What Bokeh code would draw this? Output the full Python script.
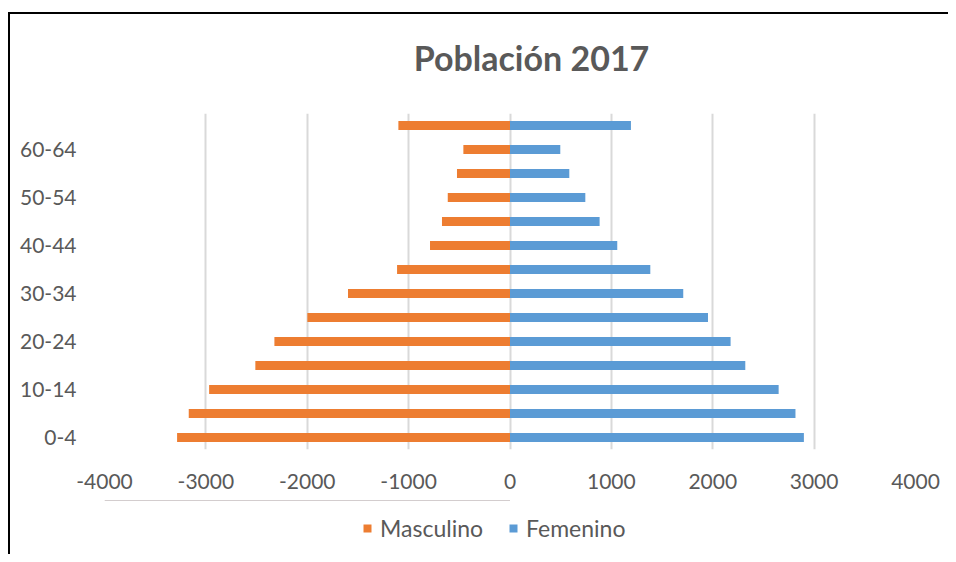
from bokeh.plotting import figure
from bokeh.layouts import column
from bokeh.models import ColumnDataSource, Legend, LegendItem, FixedTicker, Range1d, Label
from bokeh.embed import file_html
from bokeh.resources import INLINE

# Data (bottom to top)
age_groups = ["0-4", "5-9", "10-14", "15-19", "20-24", "25-29", "30-34",
              "35-39", "40-44", "45-49", "50-54", "55-59", "60-64", "65+"]
masculino = [3284, 3169, 2968, 2512, 2324, 1999, 1598, 1114, 789, 671, 614, 523, 460, 1101]
femenino = [2899, 2816, 2650, 2321, 2176, 1953, 1709, 1384, 1058, 884, 743, 585, 496, 1193]
x_ticks = [-4000, -3000, -2000, -1000, 0, 1000, 2000, 3000, 4000]
title_text = "Población 2017"
series_names = ["Masculino", "Femenino"]

ORANGE = "#ED7D31"
BLUE = "#5B9BD5"
TEXT = "#595959"
FONT = "Lato"


def strip(h):
    f = figure(width=938, height=h, x_range=(0, 1), y_range=(0, 1),
               output_backend="svg", toolbar_location=None,
               x_axis_location=None, y_axis_location=None,
               min_border=0, min_border_left=0, min_border_right=0,
               min_border_top=0, min_border_bottom=0)
    f.grid.visible = False
    f.outline_line_color = None
    return f


# Title strip
pt = strip(99)
pt.add_layout(Label(x=427, y=56, x_units="screen", y_units="screen",
                    text=title_text, text_font=FONT, text_font_size="34px",
                    text_font_style="bold", text_color=TEXT,
                    text_align="center", text_baseline="middle"))

# Main chart
idx = list(range(len(age_groups)))
src = ColumnDataSource(dict(
    pos=idx,
    age=age_groups,
    masc=[-v for v in masculino],
    fem=femenino,
))

p = figure(
    width=938, height=387,
    y_range=Range1d(-0.5, len(age_groups) - 0.5),
    x_range=(-4000, 4000),
    output_backend="svg", toolbar_location=None,
    min_border_left=94, min_border_right=33,
    min_border_top=0, min_border_bottom=51,
)

p.hbar(y="pos", left=0, right="masc", height=0.38, source=src,
       fill_color=ORANGE, line_color=None)
p.hbar(y="pos", left=0, right="fem", height=0.38, source=src,
       fill_color=BLUE, line_color=None)

p.outline_line_color = None
p.ygrid.grid_line_color = None
p.xgrid.grid_line_color = "#D9D9D9"
p.xgrid.grid_line_width = 2
p.xaxis.ticker = FixedTicker(ticks=x_ticks)
p.xaxis.major_label_overrides = {t: str(t) for t in x_ticks}
p.yaxis.ticker = FixedTicker(ticks=[i for i in idx if i % 2 == 0 and i < len(idx) - 1])
p.yaxis.major_label_overrides = {i: a for i, a in zip(idx, age_groups)}

for ax in (p.xaxis[0], p.yaxis[0]):
    ax.axis_line_color = None
    ax.major_tick_line_color = None
    ax.minor_tick_line_color = None
    ax.major_label_text_font = FONT
    ax.major_label_text_font_size = "21px"
    ax.major_label_text_color = TEXT

p.xaxis.major_label_standoff = 18
p.yaxis.major_label_standoff = 22

# Legend strip below the chart (swatch renderers sit outside the visible range)
pl = strip(54)
lm = pl.hbar(y=[5], left=0, right=[0.5], height=0.5, fill_color=ORANGE, line_color=None)
lf = pl.hbar(y=[5], left=0, right=[0.5], height=0.5, fill_color=BLUE, line_color=None)

legend = Legend(items=[LegendItem(label=series_names[0], renderers=[lm]),
                       LegendItem(label=series_names[1], renderers=[lf])],
                orientation="horizontal", location=(258, 12),
                label_text_font=FONT, label_text_font_size="23px",
                label_text_color=TEXT, glyph_width=10, glyph_height=10,
                label_standoff=8, spacing=25, border_line_color=None,
                background_fill_alpha=0, margin=0, padding=0)
pl.add_layout(legend, "center")

layout = column(pt, p, pl, spacing=0,
                styles={"margin-left": "8px", "margin-top": "12px",
                        "border-left": "2px solid #000", "border-top": "2px solid #000"})

open("out.html", "w").write(file_html(layout, INLINE))
